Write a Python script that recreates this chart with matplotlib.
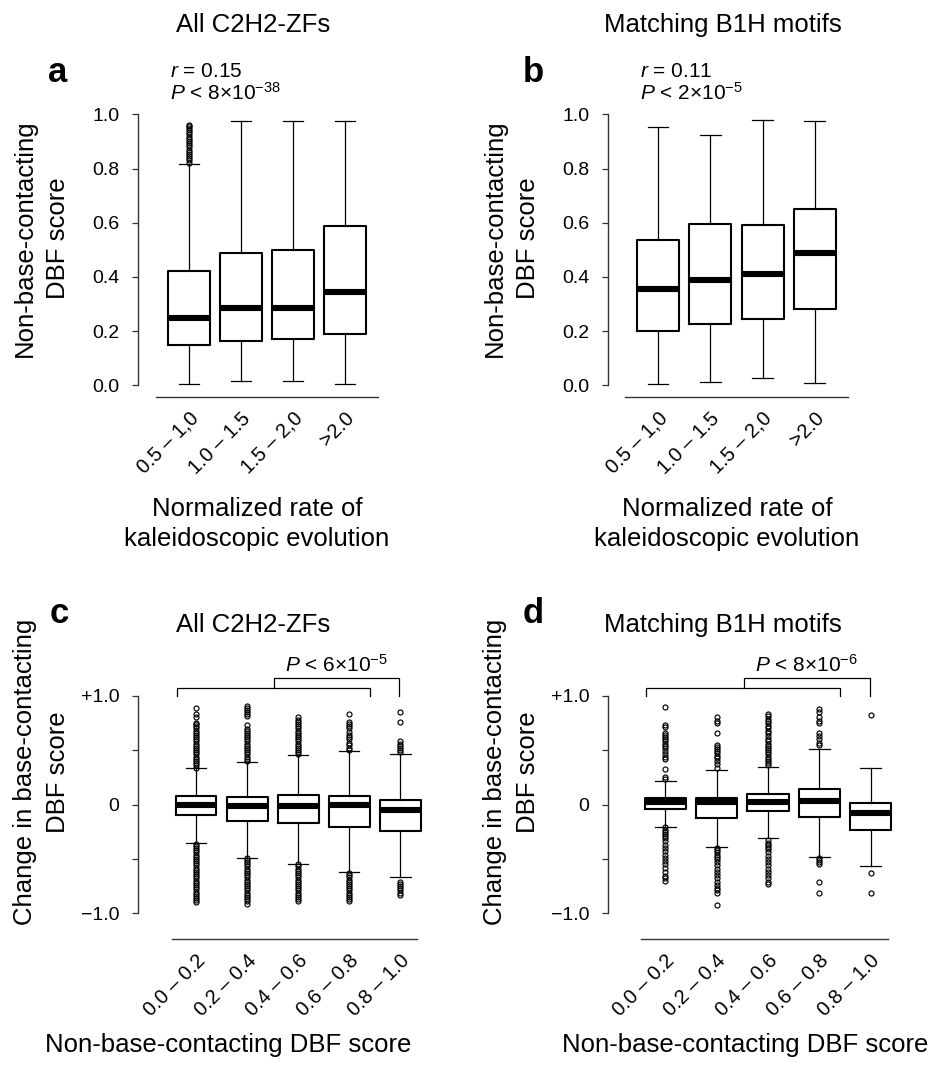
import matplotlib
matplotlib.use("Agg")
import matplotlib.pyplot as plt
import matplotlib.transforms as mtransforms

plt.rcParams['font.family'] = ['Liberation Sans', 'DejaVu Sans']
plt.rcParams['mathtext.fontset'] = 'custom'
plt.rcParams['mathtext.rm'] = 'Liberation Sans'
plt.rcParams['mathtext.it'] = 'Liberation Sans:italic'

W, H = 935, 1068

# ---- data ----
rate_bins = ["0.5 – 1,0", "1.0 – 1.5", "1.5 – 2,0", ">2.0"]
score_bins = ["0.0 – 0.2", "0.2 – 0.4", "0.4 – 0.6", "0.6 – 0.8", "0.8 – 1.0"]

# a: all C2H2-ZFs, non-base-contacting DBF score vs rate
a_whislo = [0.005, 0.017, 0.015, 0.005]
a_q1 = [0.150, 0.163, 0.171, 0.191]
a_med = [0.247, 0.285, 0.285, 0.346]
a_q3 = [0.422, 0.488, 0.501, 0.587]
a_whishi = [0.818, 0.977, 0.977, 0.974]
a_fliers = [
    [0.822, 0.83, 0.838, 0.846, 0.854, 0.862, 0.87, 0.878, 0.886, 0.894,
     0.902, 0.91, 0.918, 0.926, 0.934, 0.942, 0.95, 0.956, 0.962],
    [], [], [],
]

# b: matching B1H motifs
b_whislo = [0.003, 0.012, 0.027, 0.009]
b_q1 = [0.200, 0.225, 0.246, 0.282]
b_med = [0.354, 0.387, 0.412, 0.488]
b_q3 = [0.535, 0.594, 0.590, 0.651]
b_whishi = [0.952, 0.925, 0.980, 0.977]
b_fliers = [[], [], [], []]

# c: all C2H2-ZFs, change in base-contacting DBF score
c_whislo = [-0.355, -0.488, -0.546, -0.621, -0.667]
c_q1 = [-0.098, -0.156, -0.174, -0.205, -0.245]
c_med = [0.0, -0.015, -0.015, -0.009, -0.055]
c_q3 = [0.076, 0.067, 0.083, 0.076, 0.039]
c_whishi = [0.333, 0.392, 0.452, 0.495, 0.468]
c_fliers = [
    [0.34, 0.36, 0.38, 0.40, 0.42, 0.44, 0.46, 0.48, 0.50, 0.52, 0.54, 0.56,
     0.58, 0.60, 0.62, 0.64, 0.66, 0.68, 0.70, 0.72, 0.74, 0.75, 0.80, 0.83, 0.89,
     -0.36, -0.38, -0.40, -0.42, -0.44, -0.46, -0.48, -0.50, -0.52, -0.54, -0.56,
     -0.58, -0.60, -0.62, -0.64, -0.66, -0.68, -0.70, -0.72, -0.74, -0.76, -0.78,
     -0.80, -0.82, -0.84, -0.86, -0.88, -0.90],
    [0.40, 0.42, 0.44, 0.46, 0.48, 0.50, 0.52, 0.54, 0.56, 0.58, 0.60, 0.62,
     0.64, 0.66, 0.68, 0.69, 0.73, 0.81, 0.83, 0.85, 0.87, 0.89, 0.91,
     -0.49, -0.51, -0.53, -0.55, -0.57, -0.59, -0.61, -0.63, -0.65, -0.67, -0.69,
     -0.71, -0.73, -0.75, -0.77, -0.79, -0.81, -0.83, -0.85, -0.87, -0.89, -0.915],
    [0.46, 0.48, 0.50, 0.52, 0.54, 0.56, 0.58, 0.60, 0.62, 0.64, 0.66, 0.68,
     0.70, 0.72, 0.74, 0.76, 0.78, 0.80,
     -0.55, -0.57, -0.59, -0.61, -0.63, -0.65, -0.67, -0.69, -0.71, -0.73, -0.75,
     -0.77, -0.79, -0.81, -0.83, -0.85, -0.87, -0.89],
    [0.50, 0.52, 0.55, 0.57, 0.60, 0.62, 0.64, 0.67, 0.70, 0.72, 0.74, 0.76, 0.83,
     -0.63, -0.65, -0.67, -0.69, -0.71, -0.73, -0.75, -0.77, -0.79, -0.81, -0.83,
     -0.85, -0.87, -0.89],
    [0.48, 0.50, 0.52, 0.54, 0.56, 0.58, 0.76, 0.85,
     -0.71, -0.73, -0.75, -0.77, -0.79, -0.81, -0.83],
]

# d: matching B1H motifs
d_whislo = [-0.203, -0.387, -0.310, -0.479, -0.562]
d_q1 = [-0.045, -0.123, -0.064, -0.111, -0.233]
d_med = [0.022, 0.025, 0.025, 0.028, -0.080]
d_q3 = [0.059, 0.059, 0.099, 0.145, 0.015]
d_whishi = [0.215, 0.313, 0.344, 0.507, 0.335]
d_fliers = [
    [0.897, 0.734, 0.713, 0.66, 0.64, 0.62, 0.60, 0.58, 0.56, 0.54, 0.52, 0.49,
     0.46, 0.44, 0.415, 0.33, 0.25, 0.23,
     -0.21, -0.23, -0.25, -0.27, -0.29, -0.31, -0.34, -0.37, -0.40, -0.43, -0.46,
     -0.49, -0.52, -0.55, -0.58, -0.62, -0.66, -0.68, -0.70],
    [0.80, 0.77, 0.745, 0.66, 0.55, 0.53, 0.51, 0.49, 0.47, 0.45, 0.43, 0.40,
     0.37, 0.34,
     -0.40, -0.42, -0.44, -0.46, -0.48, -0.50, -0.53, -0.56, -0.59, -0.62, -0.65,
     -0.68, -0.71, -0.74, -0.77, -0.79, -0.81, -0.92],
    [0.83, 0.81, 0.79, 0.77, 0.75, 0.72, 0.70, 0.68, 0.66, 0.63, 0.60, 0.58,
     0.56, 0.54, 0.52, 0.50, 0.48, 0.46, 0.44, 0.42, 0.40, 0.38, 0.36,
     -0.33, -0.35, -0.37, -0.39, -0.41, -0.44, -0.47, -0.50, -0.53, -0.56, -0.59,
     -0.62, -0.65, -0.68, -0.71, -0.73],
    [0.88, 0.85, 0.80, 0.77, 0.745, 0.66, 0.63, 0.60, 0.57, 0.545,
     -0.49, -0.51, -0.53, -0.55, -0.71, -0.815],
    [0.826, -0.633, -0.815],
]

titles = ["All C2H2-ZFs", "Matching B1H motifs"]
corr_text = [(r"$\mathit{r}$ = 0.15", r"$\mathit{P}$ < 8×10$^{-38}$"),
             (r"$\mathit{r}$ = 0.11", r"$\mathit{P}$ < 2×10$^{-5}$")]
p_text = [r"$\mathit{P}$ < 6×10$^{-5}$", r"$\mathit{P}$ < 8×10$^{-6}$"]


def make_stats(whislo, q1, med, q3, whishi, fliers):
    return [dict(whislo=lo, q1=a, med=m, q3=b, whishi=hi, fliers=f)
            for lo, a, m, b, hi, f in zip(whislo, q1, med, q3, whishi, fliers)]


fig = plt.figure(figsize=(W / 100, H / 100), dpi=100)


def px_axes(left, top, right, bottom):
    return fig.add_axes([left / W, 1 - bottom / H, (right - left) / W, (bottom - top) / H])


def fx(x):
    return x / W


def fy(y):
    return 1 - y / H


def draw_boxes(ax, stats, labels, line_bounds, line_offset):
    n = len(stats)
    ax.spines['top'].set_visible(False)
    ax.spines['right'].set_visible(False)
    ax.spines['bottom'].set_position(('outward', line_offset))
    ax.spines['bottom'].set_bounds(*line_bounds)
    for s in ('left', 'bottom'):
        ax.spines[s].set_color('#333333')
        ax.spines[s].set_linewidth(1.0)
    ax.bxp(stats, positions=list(range(1, n + 1)), widths=0.8,
           boxprops=dict(color='black', linewidth=1.5),
           whiskerprops=dict(color='black', linewidth=0.9),
           capprops=dict(color='black', linewidth=0.9),
           medianprops=dict(color='black', linewidth=4.4, solid_capstyle='butt'),
           flierprops=dict(marker='o', markersize=3.6, markerfacecolor='none',
                           markeredgecolor='black', markeredgewidth=0.85))
    ax.tick_params(axis='x', length=0, pad=16, labelsize=14.5)
    ax.tick_params(axis='y', length=4.5, width=0.9, pad=9, labelsize=14, color='#333333')
    ax.set_xticks(list(range(1, n + 1)), labels, rotation=45, ha='right',
                  va='baseline', rotation_mode='anchor')
    offset = mtransforms.ScaledTranslation(10 / 100, 0, fig.dpi_scale_trans)
    for lbl in ax.get_xticklabels():
        lbl.set_transform(lbl.get_transform() + offset)


def two_line_ylabel(x_first, x_second, y, first, second):
    # each line anchored on its baseline so the two lines sit like the reference
    for x, line in ((x_first, first), (x_second, second)):
        fig.text(fx(x), fy(y), line, rotation=90, rotation_mode='anchor',
                 ha='center', va='baseline', fontsize=18.5)


# ---- top row ----
top_axes = [px_axes(138, 106.2, 395, 393.4), px_axes(608, 106.2, 865, 393.4)]
top_stats = [make_stats(a_whislo, a_q1, a_med, a_q3, a_whishi, a_fliers),
             make_stats(b_whislo, b_q1, b_med, b_q3, b_whishi, b_fliers)]
top_xlim = [(0.019, 4.96), (0.044, 4.958)]
for i, ax in enumerate(top_axes):
    draw_boxes(ax, top_stats[i], rate_bins, (0.37, 4.63), 2.6)
    ax.set_xlim(*top_xlim[i])
    ax.set_ylim(-0.03, 1.03)
    ax.spines['left'].set_bounds(0, 1)
    ax.set_yticks([0, 0.2, 0.4, 0.6, 0.8, 1.0],
                  ["0.0", "0.2", "0.4", "0.6", "0.8", "1.0"])

# ---- bottom row ----
bot_axes = [px_axes(138.3, 690.3, 430, 918.7), px_axes(608, 690.3, 900, 918.7)]
bot_stats = [make_stats(c_whislo, c_q1, c_med, c_q3, c_whishi, c_fliers),
             make_stats(d_whislo, d_q1, d_med, d_q3, d_whishi, d_fliers)]
bot_xlim = [(-0.129, 5.58), (-0.116, 5.57)]
for i, ax in enumerate(bot_axes):
    draw_boxes(ax, bot_stats[i], score_bins, (0.53, 5.33), 14.6)
    ax.set_xlim(*bot_xlim[i])
    ax.set_ylim(-1.05, 1.05)
    ax.spines['left'].set_bounds(-1, 1)
    ax.set_yticks([-1, -0.5, 0, 0.5, 1], ["−1.0", "", "0", "", "+1.0"])
    # comparison bracket
    kw = dict(color='black', linewidth=0.9, clip_on=False)
    ax.plot([0.63, 0.63, 4.40, 4.40], [0.994, 1.071, 1.071, 0.994], **kw)
    ax.plot([2.53, 2.53, 4.98, 4.98], [1.071, 1.159, 1.159, 0.994], **kw)
    ax.text(3.75, 1.221, p_text[i], ha='center', va='baseline', fontsize=15,
            clip_on=False)

# ---- text around the panels ----
for col, dx in enumerate([0, 470]):
    fig.text(fx(253 + dx), fy(32), titles[col], ha='center', va='baseline', fontsize=18.5)
    fig.text(fx(253 + dx), fy(632), titles[col], ha='center', va='baseline', fontsize=18.5)
    fig.text(fx(170 + dx), fy(77), corr_text[col][0], ha='left', va='baseline', fontsize=15)
    fig.text(fx(170 + dx), fy(100), corr_text[col][1], ha='left', va='baseline', fontsize=15)
    two_line_ylabel(32 + dx, 65 + dx, 238, "Non-base-contacting", "DBF score")
    two_line_ylabel(32 + dx, 65 + dx, 772, "Change in base-contacting", "DBF score")
    fig.text(fx(257 + dx), fy(497), "Normalized rate of\nkaleidoscopic evolution",
             ha='center', va='top', fontsize=18.5, linespacing=1.3)

fig.text(fx(228), fy(1052), "Non-base-contacting DBF score", ha='center', va='baseline', fontsize=18.5)
fig.text(fx(745), fy(1052), "Non-base-contacting DBF score", ha='center', va='baseline', fontsize=18.5)

for letter, x, y in [("a", 48, 82), ("b", 523, 82), ("c", 50, 623), ("d", 523, 623)]:
    fig.text(fx(x), fy(y), letter, ha='left', va='baseline', fontsize=25, fontweight='bold')

fig.savefig("out.png", dpi=100)
